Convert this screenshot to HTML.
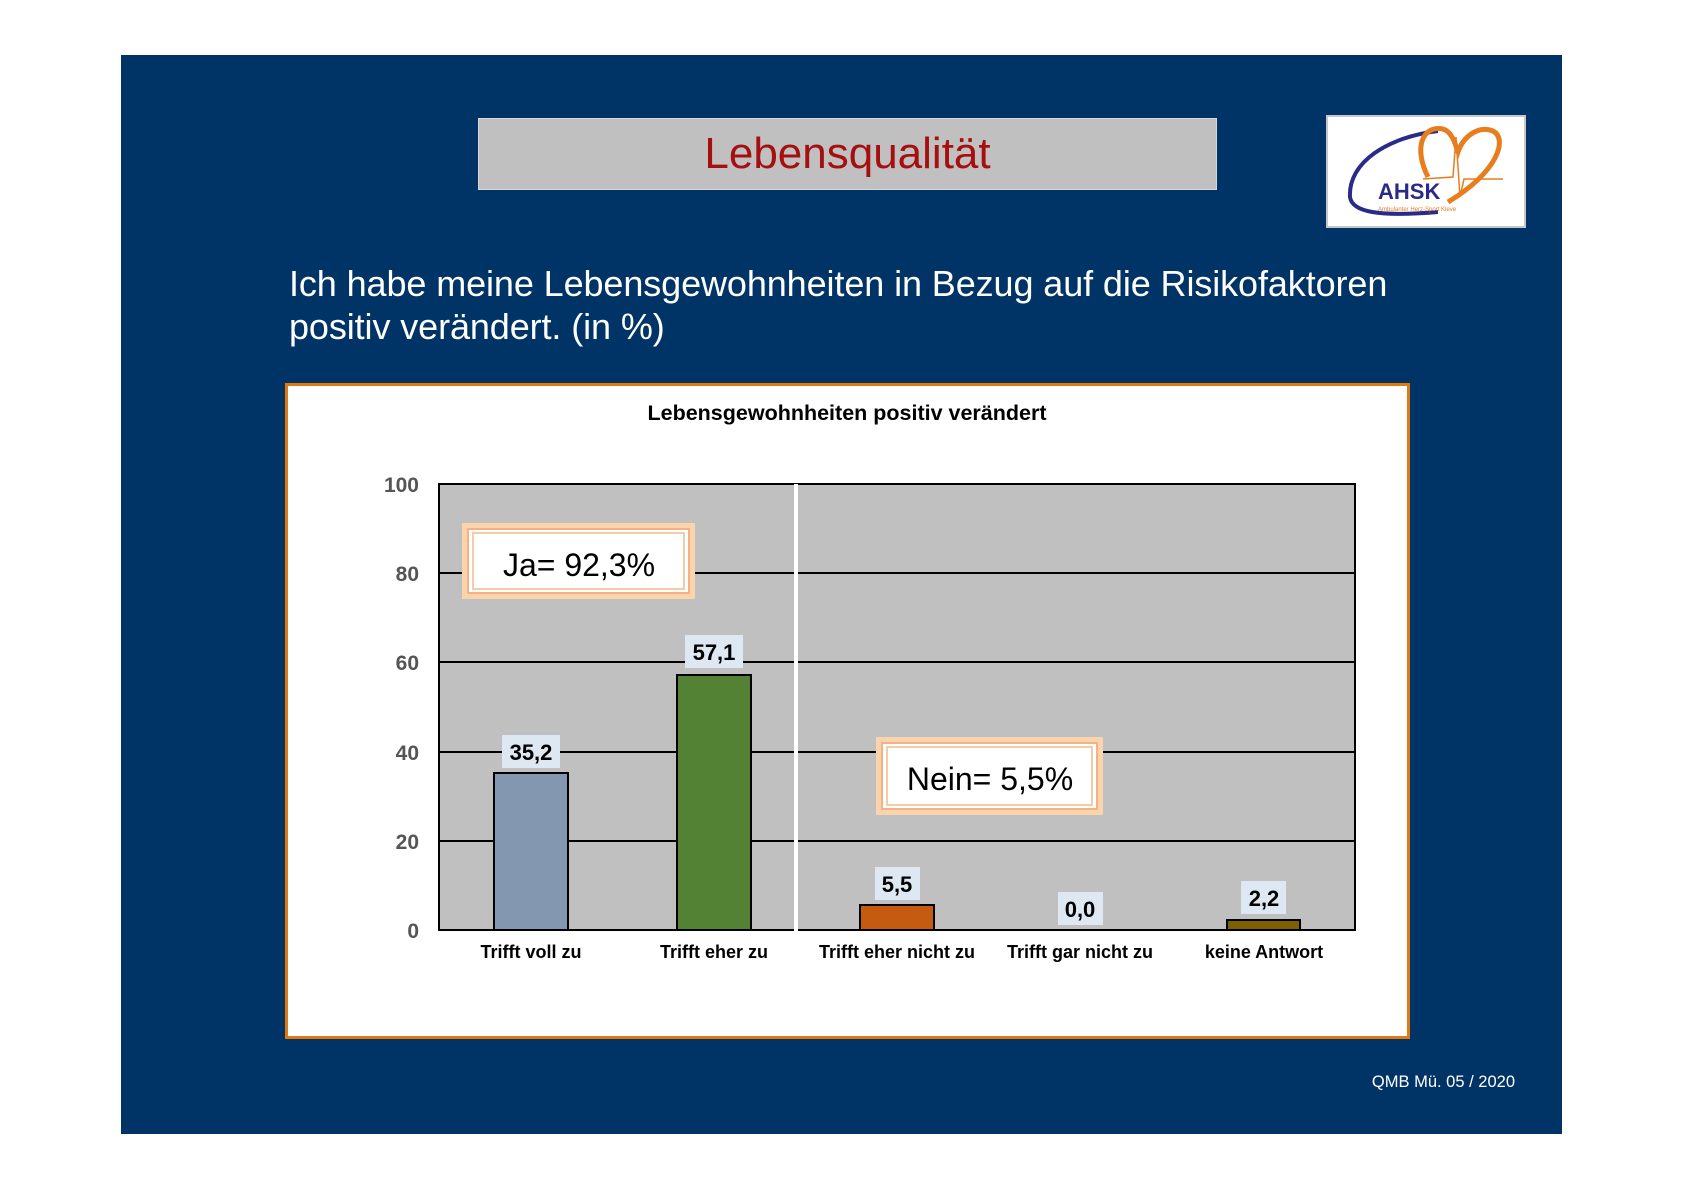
<!DOCTYPE html>
<html><head><meta charset="utf-8"><style>
body{margin:0;width:1684px;height:1190px;background:#fff;position:relative;overflow:hidden;font-family:"Liberation Sans",sans-serif}
.a{position:absolute}
</style></head><body>
<div class="a" style="left:121px;top:55px;width:1441px;height:1079px;background:#013466"></div>
<div class="a" style="left:478px;top:118px;width:737px;height:70px;background:#c0c0c0;border:1px solid #d8d8d8;color:#a50f0f;font-size:44px;text-align:center;line-height:70px">Lebensqualität</div>
<div class="a" style="left:1326px;top:115px;width:196px;height:109px;background:#fff;border:2px solid #c8c8c8">
<svg width="196" height="109">
<path d="M110,14 C60,20 20,45 22,80 C24,95 50,100 110,95" fill="none" stroke="#2a2a8a" stroke-width="4"/>
<path d="M100,60 C85,30 95,8 115,12 C125,15 128,30 130,35 C135,20 150,8 165,14 C180,22 170,55 120,85" fill="none" stroke="#e87d1e" stroke-width="5"/>
<path d="M95,62 L125,60 L128,20 L132,80 L136,62 L175,62" fill="none" stroke="#e87d1e" stroke-width="1.5"/>
<text x="50" y="82" font-family="Liberation Sans" font-weight="bold" font-size="22" fill="#2a2a8a">AHSK</text>
<text x="50" y="94" font-family="Liberation Sans" font-size="6" fill="#e87d1e">Ambulanter Herz-Sport Kleve</text>
</svg></div>
<div class="a" style="left:289px;top:262px;color:#fff;font-size:36px;line-height:43px;letter-spacing:-0.1px">Ich habe meine Lebensgewohnheiten in Bezug auf die Risikofaktoren<br>positiv verändert. (in %)</div>
<div class="a" style="left:285px;top:383px;width:1119px;height:650px;background:#fff;border:3px solid #e2780f"></div>
<svg class="a" style="left:0;top:0" width="1684" height="1190" font-family="Liberation Sans">
<text x="847" y="420" text-anchor="middle" font-size="21.5" font-weight="bold">Lebensgewohnheiten positiv verändert</text>
<rect x="439" y="484" width="916" height="446" fill="#c0c0c0" stroke="#000" stroke-width="2"/>
<g stroke="#000" stroke-width="2">
<line x1="439" x2="1355" y1="573" y2="573"/><line x1="439" x2="1355" y1="662" y2="662"/>
<line x1="439" x2="1355" y1="752" y2="752"/><line x1="439" x2="1355" y1="841" y2="841"/>
</g>
<g font-size="21" font-weight="bold" fill="#555" text-anchor="end">
<text x="419" y="492">100</text><text x="419" y="581">80</text><text x="419" y="670">60</text>
<text x="419" y="760">40</text><text x="419" y="849">20</text><text x="419" y="938">0</text>
</g>
<g stroke="#000" stroke-width="2">
<rect x="494" y="773" width="74" height="157" fill="#8497b0"/>
<rect x="677" y="675" width="74" height="255" fill="#548235"/>
<rect x="860" y="905" width="74" height="25" fill="#c55a11"/>
<rect x="1227" y="920" width="73" height="10" fill="#7f6000"/>
</g>
<line x1="796" x2="796" y1="484" y2="932" stroke="#fff" stroke-width="4"/>
<g fill="#dde8f3">
<rect x="502" y="735" width="58" height="33"/><rect x="685" y="635" width="58" height="33"/>
<rect x="875" y="867" width="45" height="33"/><rect x="1058" y="892" width="45" height="33"/>
<rect x="1241" y="881" width="45" height="33"/>
</g>
<g font-size="22" font-weight="bold" text-anchor="middle">
<text x="531" y="760">35,2</text><text x="714" y="660">57,1</text><text x="897" y="892">5,5</text>
<text x="1080" y="917">0,0</text><text x="1264" y="906">2,2</text>
</g>
<g font-size="18" font-weight="bold" text-anchor="middle">
<text x="531" y="958">Trifft voll zu</text><text x="714" y="958">Trifft eher zu</text>
<text x="897" y="958">Trifft eher nicht zu</text><text x="1080" y="958">Trifft gar nicht zu</text>
<text x="1264" y="958">keine Antwort</text>
</g>
<rect x="462" y="523" width="233" height="76" fill="#fbd3ad"/>
<rect x="468" y="529" width="221" height="64" fill="#fff" stroke="#f4b183" stroke-width="2"/>
<rect x="473" y="533" width="211" height="56" fill="#fff" stroke="#f8cba8" stroke-width="2"/>
<text x="579" y="576" text-anchor="middle" font-size="32">Ja= 92,3%</text>
<rect x="876" y="737" width="227" height="78" fill="#fbd3ad"/>
<rect x="882" y="743" width="215" height="66" fill="#fff" stroke="#f4b183" stroke-width="2"/>
<rect x="887" y="747" width="205" height="58" fill="#fff" stroke="#f8cba8" stroke-width="2"/>
<text x="990" y="790" text-anchor="middle" font-size="32">Nein= 5,5%</text>
<text x="1515" y="1087" text-anchor="end" font-size="16.5" fill="#fff">QMB Mü.  05 / 2020</text>
</svg>
</body></html>
